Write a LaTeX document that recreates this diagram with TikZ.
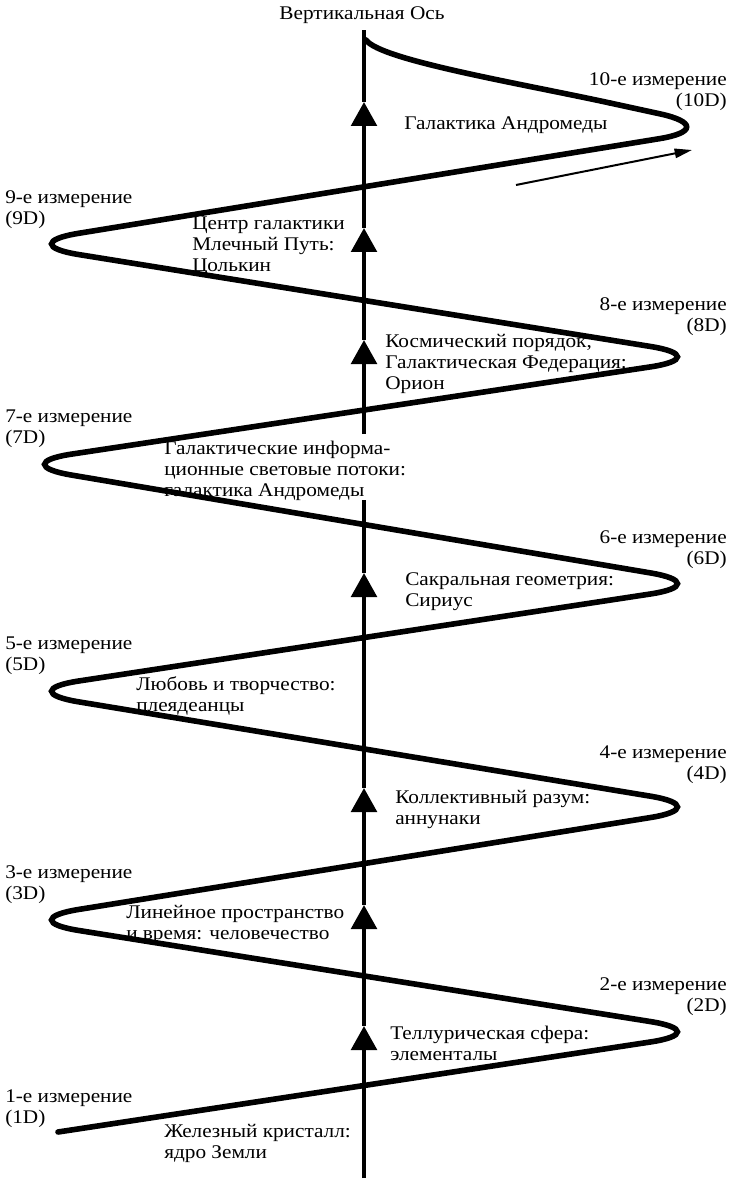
\documentclass[tikz,border=0pt]{standalone}
\usepackage{fontspec}
\setmainfont[FakeStretch=1.1]{Liberation Serif}
\usetikzlibrary{arrows.meta}
\begin{document}
\begin{tikzpicture}[x=0.75pt,y=-0.75pt,
    spiral/.style={line width=4.2pt,line cap=round,rounded corners=50pt},
    axisline/.style={line width=3.4pt},
    axisarrow/.style={line width=3.4pt,-{Triangle[width=19pt,length=18pt]}},
    txt/.style={font=\fontsize{14.5pt}{15.75pt}\selectfont,inner sep=0pt},
    leftlabel/.style={txt,align=left,anchor=north west},
    rightlabel/.style={txt,align=right,anchor=north east}]
    \useasboundingbox (0,0) rectangle (729,1180);

    \coordinate (bot) at (364,1178);
    \coordinate (tip1) at (364,1026);
    \coordinate (tip2) at (364,905);
    \coordinate (tip3) at (364,788);
    \coordinate (tip4) at (364,573);
    \coordinate (gaplo) at (364,500);
    \coordinate (gaphi) at (364,434);
    \coordinate (tip5) at (364,340);
    \coordinate (tip6) at (364,228);
    \coordinate (tip7) at (364,102);
    \coordinate (top) at (364,30);

    \draw[axisarrow] (bot) -- (tip1);
    \draw[axisarrow] (tip1) -- (tip2);
    \draw[axisarrow] (tip2) -- (tip3);
    \draw[axisarrow] (tip3) -- (tip4);
    \draw[axisline] (tip4) -- (gaplo);
    \draw[axisarrow] (gaphi) -- (tip5);
    \draw[axisarrow] (tip5) -- (tip6);
    \draw[axisarrow] (tip6) -- (tip7);
    \draw[axisline] (tip7) -- (top);

    \draw[spiral] (58,1132) -- (716,1032) -- (13,920) -- (716,807) -- (13,691)
        -- (716,584) -- (6,464) -- (716,357) -- (13,244) -- (725,128)
        -- (610,103);
    \draw[spiral] (610,103) .. controls (518,83) and (380,60) .. (366,40);

    \coordinate (flow0) at (516,185);
    \coordinate (flow1) at (692,150);
    \draw[line width=1.5pt,-{Triangle[length=13pt,width=7pt]}] (flow0) -- (flow1);

    \node[txt,anchor=north] (title) at (362,6) {Вертикальная Ось};

    \node[rightlabel] (d10) at (727,72) {10-е измерение\\(10D)};
    \node[leftlabel] (d9) at (5,190) {9-е измерение\\(9D)};
    \node[rightlabel] (d8) at (727,297) {8-е измерение\\(8D)};
    \node[leftlabel] (d7) at (5,410) {7-е измерение\\(7D)};
    \node[rightlabel] (d6) at (727,530) {6-е измерение\\(6D)};
    \node[leftlabel] (d5) at (5,637) {5-е измерение\\(5D)};
    \node[rightlabel] (d4) at (727,745) {4-е измерение\\(4D)};
    \node[leftlabel] (d3) at (5,865) {3-е измерение\\(3D)};
    \node[rightlabel] (d2) at (727,977) {2-е измерение\\(2D)};
    \node[leftlabel] (d1) at (5,1089) {1-е измерение\\(1D)};

    \node[leftlabel] (andromeda) at (404,116) {Галактика Андромеды};
    \node[leftlabel] (milkyway) at (192,217) {Центр галактики\\Млечный Путь:\\Цолькин};
    \node[leftlabel] (orion) at (385,334) {Космический порядок,\\Галактическая Федерация:\\Орион};
    \node[leftlabel] (streams) at (164,441) {Галактические информа-\\ционные световые потоки:\\галактика Андромеды};
    \node[leftlabel] (sirius) at (405,572) {Сакральная геометрия:\\Сириус};
    \node[leftlabel] (pleiades) at (136,676) {Любовь и творчество:\\плеядеанцы};
    \node[leftlabel] (anunnaki) at (395,790) {Коллективный разум:\\аннунаки};
    \node[leftlabel] (humans) at (126,905) {Линейное пространство\\и время: человечество};
    \node[leftlabel] (elementals) at (390,1026) {Теллурическая сфера:\\элементалы};
    \node[leftlabel] (earthcore) at (164,1124) {Железный кристалл:\\ядро Земли};
\end{tikzpicture}
\end{document}
